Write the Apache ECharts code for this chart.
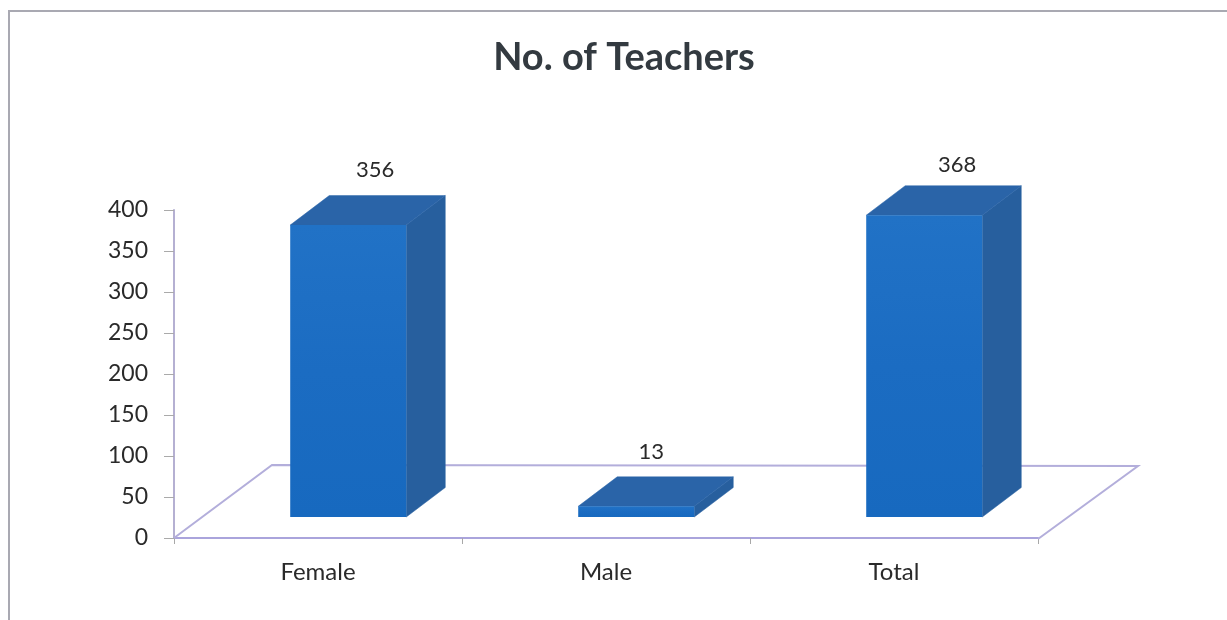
<!DOCTYPE html>
<html>
<head>
<meta charset="utf-8">
<style>html,body{margin:0;padding:0;background:#fff}#c{width:1227px;height:620px}</style>
<script src="https://cdn.jsdelivr.net/npm/echarts@6/dist/echarts.min.js"></script>
</head>
<body>
<div id="c"></div>
<script>
const categories = ['Female', 'Male', 'Total'];
const teachers = [356, 13, 368];
const yTicks = { min: 0, max: 400, interval: 50 };
const chartTitle = 'No. of Teachers';

// drawing constants for the pseudo-3D look
const barWidthRatio = 0.403, barShiftRatio = 0.105;
const barDepth = [39, -29.5], floorDepth = [98, -73], barLift = 21;
const labelNudge = [[27, -55], [15, -54], [33, -50]];
const FONT = 'Lato, "Open Sans", sans-serif';

const chart = echarts.init(document.getElementById('c'), null, { renderer: 'canvas' });

function renderFloor(params) {
  const g = params.coordSys;
  const x0 = g.x, x1 = g.x + g.width, y = g.y + g.height;
  const [dx, dy] = floorDepth;
  return {
    type: 'polyline',
    silent: true,
    shape: { points: [[x0, y], [x0 + dx, y + dy], [x1 + dx + 2, y + dy + 1], [x1, y + 1]] },
    style: { stroke: '#b3aedb', lineWidth: 2, fill: null }
  };
}

function renderBar(params, api) {
  const i = params.dataIndex;
  const base = api.coord([api.value(0), 0]);
  const top = api.coord([api.value(0), api.value(1)]);
  const band = api.size([1, 0])[0];
  const w = band * barWidthRatio;
  const l = base[0] + band * barShiftRatio - w / 2;
  const r = l + w;
  const b = base[1] - barLift;
  const t = top[1] - barLift;
  const [dx, dy] = barDepth;
  const flat = c => ({ fill: c, stroke: c, lineWidth: 0.5 });
  return {
    type: 'group',
    children: [
      { type: 'polygon', shape: { points: [[r, b], [r + dx, b + dy], [r + dx, t + dy], [r, t]] },
        style: flat('#275f9e') },
      { type: 'polygon', shape: { points: [[l, t], [l + dx, t + dy], [r + dx, t + dy], [r, t]] },
        style: flat('#2a64a8') },
      { type: 'rect', shape: { x: l, y: t, width: w, height: b - t },
        style: { fill: new echarts.graphic.LinearGradient(0, 0, 0, 1, [
          { offset: 0, color: '#2172c6' },
          { offset: 0.5, color: '#1b6cc2' },
          { offset: 1, color: '#1769bf' }
        ]) } },
      { type: 'text',
        style: {
          text: String(api.value(1)),
          x: (l + r) / 2 + labelNudge[i][0],
          y: t + labelNudge[i][1],
          align: 'center', verticalAlign: 'middle',
          font: '22px ' + FONT, fill: '#2a2a2a'
        } }
    ]
  };
}

chart.setOption({
  animation: false,
  backgroundColor: '#ffffff',
  title: {
    text: chartTitle,
    left: 624, top: 39, padding: 0,
    textAlign: 'center',
    textStyle: { fontFamily: FONT, fontWeight: 'bold', fontSize: 38, color: '#333a40' }
  },
  grid: { left: 174, right: 189, top: 210, bottom: 82 },
  xAxis: {
    type: 'category',
    data: categories,
    axisLine: { lineStyle: { color: '#aaa4dc', width: 2 } },
    axisTick: { show: true, alignWithLabel: false, length: 6, lineStyle: { color: '#a8a8a8', width: 1 } },
    axisLabel: { fontFamily: FONT, fontSize: 24, color: '#2a2a2a', margin: 22 },
    splitLine: { show: false }
  },
  yAxis: {
    type: 'value',
    min: yTicks.min, max: yTicks.max, interval: yTicks.interval,
    axisLine: { show: true, lineStyle: { color: '#b5b0d2', width: 2 } },
    axisTick: { show: true, length: 10, lineStyle: { color: '#aaaaaa', width: 1 } },
    axisLabel: { fontFamily: FONT, fontSize: 23, color: '#2a2a2a', margin: 26, padding: [2, 0, 0, 0] },
    splitLine: { show: false }
  },
  graphic: [
    { type: 'polyline', silent: true, z: 0,
      shape: { points: [[9, 620], [9, 11], [1227, 11]] },
      style: { stroke: '#a9a9b2', lineWidth: 2, fill: null } }
  ],
  series: [
    { type: 'custom', name: 'floor', coordinateSystem: 'cartesian2d', z: 1, silent: true,
      data: [[0, 0]], renderItem: renderFloor, encode: { x: 0, y: 1 } },
    { type: 'custom', name: 'No. of Teachers', coordinateSystem: 'cartesian2d', z: 3,
      data: categories.map((c, i) => [i, teachers[i]]),
      renderItem: renderBar, encode: { x: 0, y: 1 } }
  ]
});
</script>
</body>
</html>
